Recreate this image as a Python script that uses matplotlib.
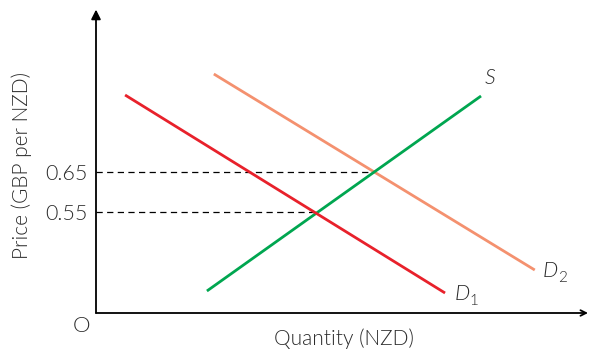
import matplotlib
matplotlib.use("Agg")
import matplotlib.pyplot as plt

# Data (quantity in arbitrary units, price in GBP per NZD)
d1_q = [5.9, 70.8]
d1_p = [0.8425, 0.3475]
d2_q = [23.9, 89.0]
d2_p = [0.895, 0.405]
s_q = [22.5, 78.1]
s_p = [0.3525, 0.84]
price_levels = [0.65, 0.55]
price_labels = ["0.65", "0.55"]

plt.rcParams['font.family'] = ['Lato', 'DejaVu Sans']
plt.rcParams['font.weight'] = 300

TXT = '#2b2b2b'
W = 300
fig = plt.figure(figsize=(5.89, 3.5), dpi=100)
ax = fig.add_axes([96/589, 37/350, (589-96)/589, 301/350])
ax.set_xlim(0, 100)
ax.set_ylim(0.2975, 1.05)
for sp in ax.spines.values():
    sp.set_visible(False)
ax.set_xticks([])
ax.set_yticks(price_levels)
ax.set_yticklabels(price_labels, fontsize=15.5, color=TXT, fontweight=W)
ax.tick_params(axis='y', length=0, pad=6)

# axes arrows
ax.annotate('', xy=(0, 1.008), xytext=(0, 0), xycoords='axes fraction',
            arrowprops=dict(arrowstyle='-|>', color='black', lw=1.3,
                            mutation_scale=14, shrinkA=0, shrinkB=0),
            annotation_clip=False)
ax.annotate('', xy=(0.998, 0), xytext=(0, 0), xycoords='axes fraction',
            arrowprops=dict(arrowstyle='->', color='black', lw=1.3,
                            mutation_scale=10, shrinkA=0, shrinkB=0),
            annotation_clip=False)

# S slope to find intersections
slope = (s_p[1] - s_p[0]) / (s_q[1] - s_q[0])
for p in price_levels:
    q = s_q[0] + (p - s_p[0]) / slope
    ax.plot([0, q], [p, p], color='black', lw=0.9, ls=(0, (5, 3.5)))

ax.plot(d2_q, d2_p, color='#F4916F', lw=2.0, solid_capstyle='butt')
ax.plot(s_q, s_p, color='#00A650', lw=2.0, solid_capstyle='butt')
ax.plot(d1_q, d1_p, color='#E8212B', lw=2.0, solid_capstyle='butt')

ax.text(s_q[1] + 0.8, s_p[1] + 0.02, 'S', fontsize=15.5, style='italic',
        color=TXT, ha='left', va='bottom', fontweight=W)


def dlabel(q, p, sub, dx, dy):
    ax.annotate('D', xy=(q, p), xytext=(dx, dy), textcoords='offset points',
                fontsize=15.5, style='italic', color=TXT, ha='left', va='center',
                fontweight=W)
    ax.annotate(sub, xy=(q, p), xytext=(dx + 10.5, dy - 5), textcoords='offset points',
                fontsize=11, color=TXT, ha='left', va='center', fontweight=W)


dlabel(d2_q[1], d2_p[1], '2', 6, -1)
dlabel(d1_q[1], d1_p[1], '1', 7, -1)

ax.set_xlabel('Quantity (NZD)', fontsize=15, color=TXT, fontweight=W)
ax.set_ylabel('Price (GBP per NZD)', fontsize=15, color=TXT, fontweight=W)
ax.yaxis.set_label_coords(-0.13, 0.49)
ax.xaxis.set_label_coords(0.503, -0.05)
fig.text(81/589, 1 - 326/350, 'O', fontsize=16, color=TXT, ha='center', va='center',
         fontweight=W)

fig.savefig('out.png', dpi=100)
